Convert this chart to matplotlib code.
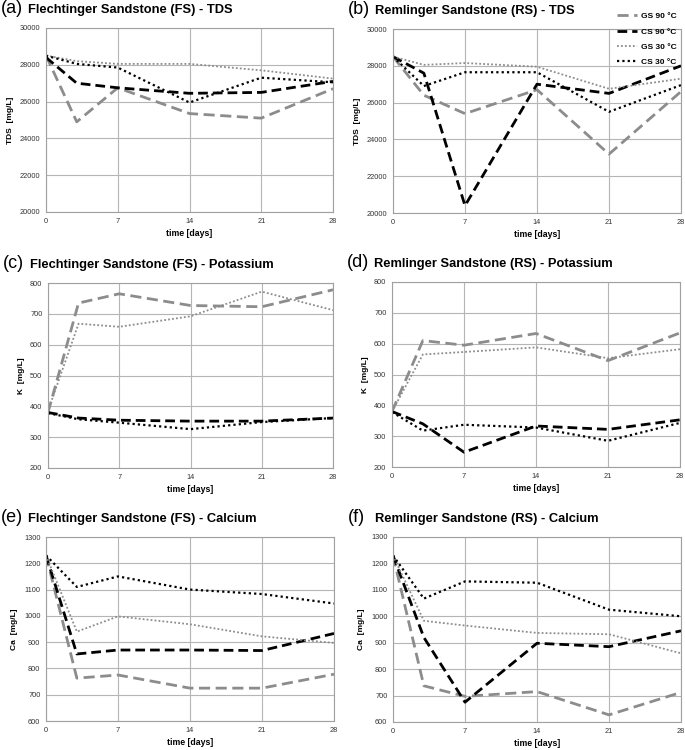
import matplotlib.pyplot as plt

plt.rcParams['font.family'] = ['Liberation Sans', 'DejaVu Sans']

# sampling days
days = [0, 3, 7, 14, 21, 28]
series_names = ["GS 90 °C", "CS 90 °C", "GS 30 °C", "CS 30 °C"]

# (a) FS - TDS
fs_tds_gs90 = [28500, 24900, 26750, 25350, 25100, 26700]
fs_tds_cs90 = [28400, 27000, 26750, 26450, 26500, 27100]
fs_tds_gs30 = [28500, 28200, 28050, 28050, 27700, 27250]
fs_tds_cs30 = [28500, 28050, 27850, 25950, 27300, 27050]

# (b) RS - TDS
rs_tds_gs90 = [28500, 26400, 25400, 26700, 23200, 26600]
rs_tds_cs90 = [28500, 27600, 20400, 27000, 26500, 28000]
rs_tds_gs30 = [28500, 28050, 28150, 27950, 26750, 27300]
rs_tds_cs30 = [28500, 26900, 27650, 27650, 25500, 26950]

# (c) FS - K
fs_k_gs90 = [380, 735, 765, 727, 723, 778]
fs_k_cs90 = [380, 362, 355, 352, 352, 362]
fs_k_gs30 = [385, 668, 658, 692, 772, 712]
fs_k_cs30 = [378, 358, 347, 326, 349, 362]

# (d) RS - K
rs_k_gs90 = [380, 610, 595, 633, 545, 635]
rs_k_cs90 = [380, 340, 248, 333, 322, 353]
rs_k_gs30 = [380, 565, 573, 588, 553, 582]
rs_k_cs30 = [378, 318, 337, 328, 285, 343]

# (e) FS - Ca
fs_ca_gs90 = [1230, 763, 775, 725, 725, 778]
fs_ca_cs90 = [1230, 855, 870, 870, 868, 933]
fs_ca_gs30 = [1230, 940, 998, 968, 922, 897]
fs_ca_cs30 = [1230, 1110, 1150, 1100, 1083, 1047]

# (f) RS - Ca
rs_ca_gs90 = [1230, 737, 697, 715, 627, 712]
rs_ca_cs90 = [1230, 920, 675, 898, 885, 945]
rs_ca_gs30 = [1230, 983, 965, 937, 932, 860]
rs_ca_cs30 = [1230, 1067, 1132, 1127, 1025, 1000]

panels = [
    ("(a)", "Flechtinger Sandstone (FS) - TDS", "TDS  [mg/L]", (20000, 30000), 2000,
     [fs_tds_gs90, fs_tds_cs90, fs_tds_gs30, fs_tds_cs30]),
    ("(b)", "Remlinger Sandstone (RS) - TDS", "TDS  [mg/L]", (20000, 30000), 2000,
     [rs_tds_gs90, rs_tds_cs90, rs_tds_gs30, rs_tds_cs30]),
    ("(c)", "Flechtinger Sandstone (FS) - Potassium", "K  [mg/L]", (200, 800), 100,
     [fs_k_gs90, fs_k_cs90, fs_k_gs30, fs_k_cs30]),
    ("(d)", "Remlinger Sandstone (RS) - Potassium", "K  [mg/L]", (200, 800), 100,
     [rs_k_gs90, rs_k_cs90, rs_k_gs30, rs_k_cs30]),
    ("(e)", "Flechtinger Sandstone (FS) - Calcium", "Ca  [mg/L]", (600, 1300), 100,
     [fs_ca_gs90, fs_ca_cs90, fs_ca_gs30, fs_ca_cs30]),
    ("(f)", "Remlinger Sandstone (RS) - Calcium", "Ca  [mg/L]", (600, 1300), 100,
     [rs_ca_gs90, rs_ca_cs90, rs_ca_gs30, rs_ca_cs30]),
]

styles = [
    dict(color='#8c8c8c', linestyle=(0, (4, 2)), linewidth=2.0),
    dict(color='black', linestyle=(0, (3.5, 1.8)), linewidth=2.0),
    dict(color='#8c8c8c', linestyle=(0, (1, 1.2)), linewidth=1.3),
    dict(color='black', linestyle=(0, (1, 1.4)), linewidth=1.6),
]

W, H = 685, 750
fig = plt.figure(figsize=(W / 100, H / 100), dpi=100)

# axes boxes in pixels: left, top, right, bottom
boxes = [
    (46, 28, 333, 212), (393, 29, 681, 213),
    (48, 283, 333, 468), (392, 282, 680, 467),
    (46, 537, 334, 721), (393, 537, 681, 722),
]

handles = []
for (tag, title, ylab, ylim, ystep, data), (l, t, r, b) in zip(panels, boxes):
    ax = fig.add_axes([l / W, 1 - b / H, (r - l) / W, (b - t) / H])
    for vals, st, name in zip(data, styles, series_names):
        ln, = ax.plot(days, vals, label=name, **st)
        if tag == "(b)":
            handles.append(ln)
    ax.set_xlim(0, 28)
    ax.set_ylim(*ylim)
    ax.set_xticks([0, 7, 14, 21, 28])
    ax.set_yticks(range(ylim[0], ylim[1] + 1, ystep))
    ax.grid(True, color='#b5b5b5', linewidth=0.8)
    ax.set_axisbelow(True)
    for s in ax.spines.values():
        s.set_color('#a0a0a0')
        s.set_linewidth(0.8)
    ax.tick_params(labelsize=5.3, colors='#333333', length=0, pad=4)
    ax.set_ylabel(ylab, fontsize=6, fontweight='bold', labelpad=4)
    ax.set_xlabel("time [days]", fontsize=6.3, fontweight='bold', labelpad=3)
    # panel title
    fig.text((l - 45) / W, 1 - (t - 15) / H, tag, fontsize=13, va='baseline', ha='left')
    fig.text((l - 18) / W, 1 - (t - 15) / H, title, fontsize=9.3, fontweight='bold',
             va='baseline', ha='left')

fig.legend(handles, series_names, loc='upper right', bbox_to_anchor=(684 / W, 1 - 5 / H),
           frameon=False, handlelength=2.3, labelspacing=0.9, handletextpad=0.5,
           prop={'weight': 'bold', 'size': 6})

fig.savefig("out.png", dpi=100)
